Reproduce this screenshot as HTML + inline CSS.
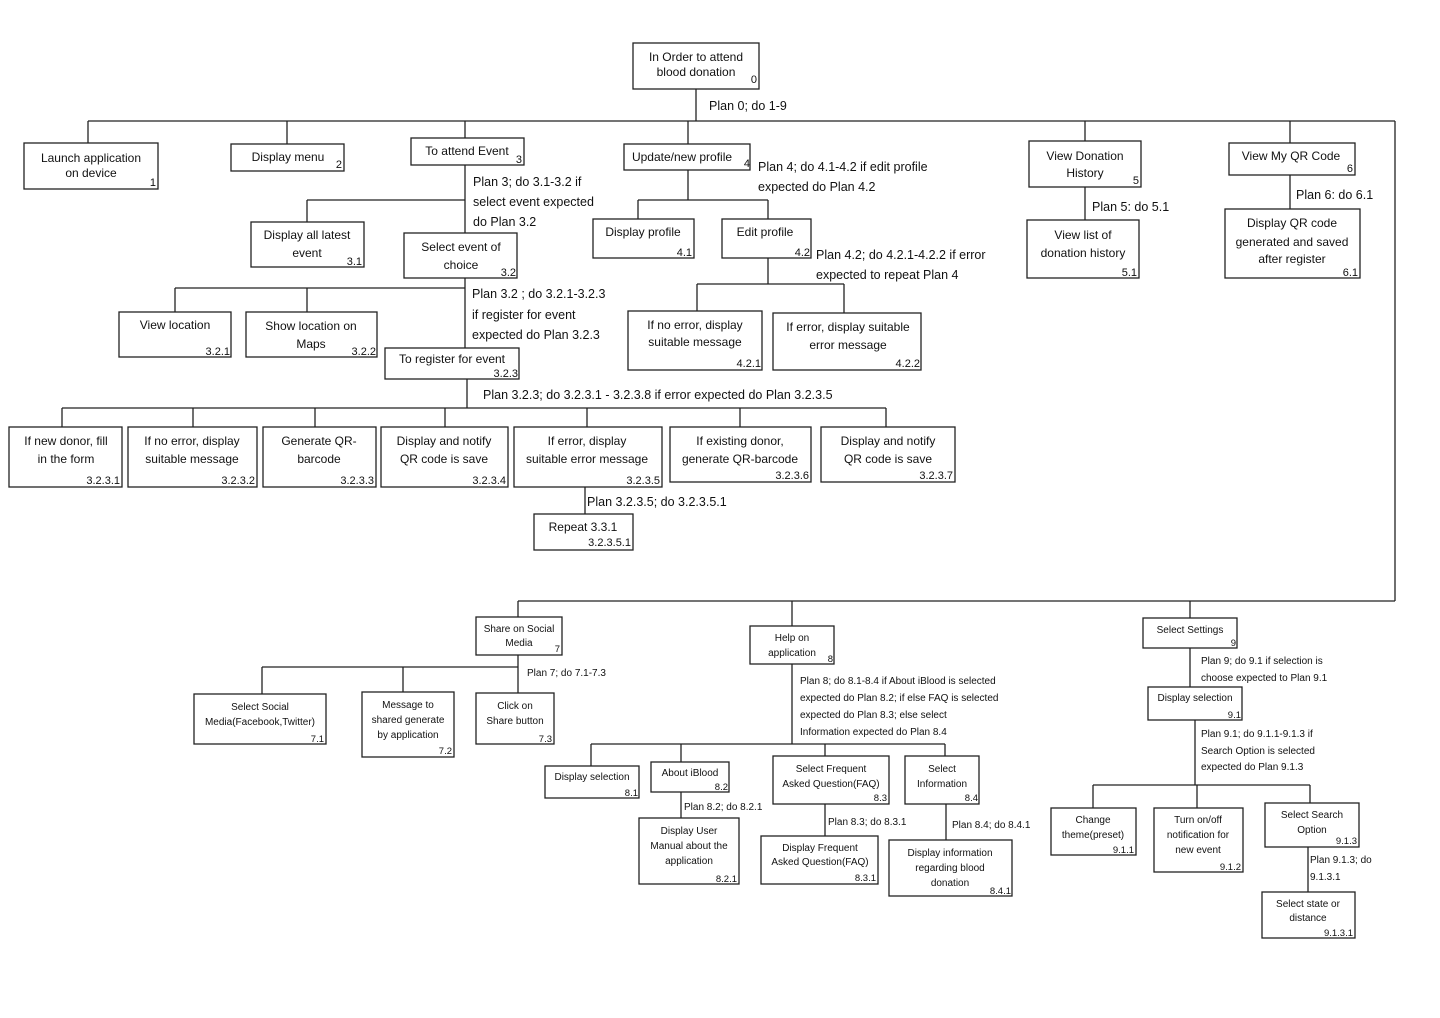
<!DOCTYPE html>
<html><head><meta charset="utf-8"><style>
html,body{margin:0;padding:0;background:#fff;}
svg{display:block;}
text{font-family:"Liberation Sans",sans-serif;fill:#111;}
.t{font-size:12px;text-anchor:middle;}
.s{font-size:10px;text-anchor:middle;}
.n{font-size:11px;text-anchor:end;}
.ns{font-size:9.5px;text-anchor:end;}
.p{font-size:12.5px;}
.ps{font-size:10px;}
rect{fill:#fff;stroke:#222;stroke-width:1.3;}
line{stroke:#222;stroke-width:1.3;}
</style></head><body>
<svg width="1440" height="1018" viewBox="0 0 1440 1018" xmlns="http://www.w3.org/2000/svg">
<!-- connectors -->
<line x1="696" y1="89" x2="696" y2="121"/>
<line x1="88" y1="121" x2="1395" y2="121"/>
<line x1="1395" y1="121" x2="1395" y2="601"/>
<line x1="518" y1="601" x2="1395" y2="601"/>
<line x1="88" y1="121" x2="88" y2="143"/>
<line x1="287" y1="121" x2="287" y2="144"/>
<line x1="465" y1="121" x2="465" y2="138"/>
<line x1="688" y1="121" x2="688" y2="144"/>
<line x1="1085" y1="121" x2="1085" y2="141"/>
<line x1="1290" y1="121" x2="1290" y2="143"/>
<line x1="1085" y1="187" x2="1085" y2="220"/>
<line x1="1290" y1="175" x2="1290" y2="209"/>
<line x1="465" y1="165" x2="465" y2="233"/>
<line x1="307" y1="200" x2="465" y2="200"/>
<line x1="307" y1="200" x2="307" y2="222"/>
<line x1="465" y1="278" x2="465" y2="348"/>
<line x1="175" y1="288" x2="465" y2="288"/>
<line x1="175" y1="288" x2="175" y2="312"/>
<line x1="307" y1="288" x2="307" y2="312"/>
<line x1="688" y1="170" x2="688" y2="200"/>
<line x1="638" y1="200" x2="768" y2="200"/>
<line x1="638" y1="200" x2="638" y2="219"/>
<line x1="768" y1="200" x2="768" y2="219"/>
<line x1="768" y1="258" x2="768" y2="284"/>
<line x1="697" y1="284" x2="844" y2="284"/>
<line x1="697" y1="284" x2="697" y2="311"/>
<line x1="844" y1="284" x2="844" y2="313"/>
<line x1="467" y1="379" x2="467" y2="408"/>
<line x1="62" y1="408" x2="886" y2="408"/>
<line x1="62" y1="408" x2="62" y2="427"/>
<line x1="193" y1="408" x2="193" y2="427"/>
<line x1="315" y1="408" x2="315" y2="427"/>
<line x1="445" y1="408" x2="445" y2="427"/>
<line x1="587" y1="408" x2="587" y2="427"/>
<line x1="740" y1="408" x2="740" y2="427"/>
<line x1="886" y1="408" x2="886" y2="427"/>
<line x1="585" y1="487" x2="585" y2="514"/>
<line x1="518" y1="601" x2="518" y2="617"/>
<line x1="792" y1="601" x2="792" y2="626"/>
<line x1="1190" y1="601" x2="1190" y2="618"/>
<line x1="518" y1="655" x2="518" y2="693"/>
<line x1="262" y1="667" x2="518" y2="667"/>
<line x1="262" y1="667" x2="262" y2="694"/>
<line x1="403" y1="667" x2="403" y2="692"/>
<line x1="792" y1="664" x2="792" y2="744"/>
<line x1="591" y1="744" x2="945" y2="744"/>
<line x1="591" y1="744" x2="591" y2="766"/>
<line x1="681" y1="744" x2="681" y2="762"/>
<line x1="825" y1="744" x2="825" y2="756"/>
<line x1="945" y1="744" x2="945" y2="756"/>
<line x1="681" y1="792" x2="681" y2="818"/>
<line x1="825" y1="803" x2="825" y2="836"/>
<line x1="946" y1="804" x2="946" y2="840"/>
<line x1="1190" y1="648" x2="1190" y2="687"/>
<line x1="1195" y1="720" x2="1195" y2="785"/>
<line x1="1093" y1="785" x2="1310" y2="785"/>
<line x1="1093" y1="785" x2="1093" y2="808"/>
<line x1="1197" y1="785" x2="1197" y2="808"/>
<line x1="1310" y1="785" x2="1310" y2="803"/>
<line x1="1308" y1="847" x2="1308" y2="892"/>

<!-- plan labels -->
<text class="p" x="709" y="110">Plan 0; do 1-9</text>
<text class="p" x="758" y="171">Plan 4; do 4.1-4.2 if edit profile</text>
<text class="p" x="758" y="191">expected do Plan 4.2</text>
<text class="p" x="1092" y="211">Plan 5: do 5.1</text>
<text class="p" x="1296" y="199">Plan 6: do 6.1</text>
<text class="p" x="473" y="186">Plan 3; do 3.1-3.2 if</text>
<text class="p" x="473" y="206">select event expected</text>
<text class="p" x="473" y="226">do Plan 3.2</text>
<text class="p" x="472" y="298">Plan 3.2 ; do 3.2.1-3.2.3</text>
<text class="p" x="472" y="319">if register for event</text>
<text class="p" x="472" y="339">expected do Plan 3.2.3</text>
<text class="p" x="816" y="259">Plan 4.2; do 4.2.1-4.2.2 if error</text>
<text class="p" x="816" y="279">expected to repeat Plan 4</text>
<text class="p" x="483" y="399">Plan 3.2.3; do 3.2.3.1 - 3.2.3.8 if error expected do Plan 3.2.3.5</text>
<text class="p" x="587" y="506">Plan 3.2.3.5; do 3.2.3.5.1</text>
<text class="ps" x="527" y="676">Plan 7; do 7.1-7.3</text>
<text class="ps" x="800" y="684">Plan 8; do 8.1-8.4 if About iBlood is selected</text>
<text class="ps" x="800" y="701">expected do Plan 8.2; if else FAQ is selected</text>
<text class="ps" x="800" y="718">expected do Plan 8.3;    else select</text>
<text class="ps" x="800" y="735">Information expected do Plan 8.4</text>
<text class="ps" x="684" y="810">Plan 8.2; do 8.2.1</text>
<text class="ps" x="828" y="825">Plan 8.3; do 8.3.1</text>
<text class="ps" x="952" y="828">Plan 8.4; do 8.4.1</text>
<text class="ps" x="1201" y="664">Plan 9; do 9.1 if selection is</text>
<text class="ps" x="1201" y="681">choose expected to Plan 9.1</text>
<text class="ps" x="1201" y="737">Plan 9.1; do 9.1.1-9.1.3 if</text>
<text class="ps" x="1201" y="754">Search Option is selected</text>
<text class="ps" x="1201" y="770">expected do Plan 9.1.3</text>
<text class="ps" x="1310" y="863">Plan 9.1.3; do</text>
<text class="ps" x="1310" y="880">9.1.3.1</text>

<!-- boxes top -->
<rect x="633" y="43" width="126" height="46"/>
<text class="t" x="696" y="61">In Order to attend</text><text class="t" x="696" y="76">blood donation</text><text class="n" x="757" y="83">0</text>
<rect x="24" y="143" width="134" height="46"/>
<text class="t" x="91" y="162">Launch application</text><text class="t" x="91" y="177">on device</text><text class="n" x="156" y="186">1</text>
<rect x="231" y="144" width="113" height="27"/>
<text class="t" x="288" y="161">Display menu</text><text class="n" x="342" y="168">2</text>
<rect x="411" y="138" width="113" height="27"/>
<text class="t" x="467" y="155">To attend Event</text><text class="n" x="522" y="163">3</text>
<rect x="624" y="144" width="126" height="26"/>
<text class="t" x="682" y="161">Update/new profile</text><text class="n" x="750" y="167">4</text>
<rect x="1029" y="141" width="112" height="46"/>
<text class="t" x="1085" y="160">View Donation</text><text class="t" x="1085" y="177">History</text><text class="n" x="1139" y="184">5</text>
<rect x="1229" y="143" width="126" height="32"/>
<text class="t" x="1291" y="160">View My QR Code</text><text class="n" x="1353" y="172">6</text>
<rect x="1027" y="220" width="112" height="58"/>
<text class="t" x="1083" y="239">View list of</text><text class="t" x="1083" y="257">donation history</text><text class="n" x="1137" y="276">5.1</text>
<rect x="1225" y="209" width="135" height="69"/>
<text class="t" x="1292" y="227">Display QR code</text><text class="t" x="1292" y="246">generated and saved</text><text class="t" x="1292" y="263">after register</text><text class="n" x="1358" y="276">6.1</text>
<rect x="251" y="222" width="113" height="45"/>
<text class="t" x="307" y="239">Display all latest</text><text class="t" x="307" y="257">event</text><text class="n" x="362" y="265">3.1</text>
<rect x="404" y="233" width="113" height="45"/>
<text class="t" x="461" y="251">Select event of</text><text class="t" x="461" y="269">choice</text><text class="n" x="516" y="276">3.2</text>
<rect x="593" y="219" width="101" height="39"/>
<text class="t" x="643" y="236">Display profile</text><text class="n" x="692" y="256">4.1</text>
<rect x="722" y="219" width="89" height="39"/>
<text class="t" x="765" y="236">Edit profile</text><text class="n" x="810" y="256">4.2</text>
<rect x="119" y="312" width="112" height="45"/>
<text class="t" x="175" y="329">View location</text><text class="n" x="230" y="355">3.2.1</text>
<rect x="246" y="312" width="131" height="45"/>
<text class="t" x="311" y="330">Show location on</text><text class="t" x="311" y="348">Maps</text><text class="n" x="376" y="355">3.2.2</text>
<rect x="385" y="348" width="134" height="31"/>
<text class="t" x="452" y="363">To register for event</text><text class="n" x="518" y="377">3.2.3</text>
<rect x="628" y="311" width="134" height="59"/>
<text class="t" x="695" y="329">If no error, display</text><text class="t" x="695" y="346">suitable message</text><text class="n" x="761" y="367">4.2.1</text>
<rect x="773" y="313" width="148" height="57"/>
<text class="t" x="848" y="331">If error, display suitable</text><text class="t" x="848" y="349">error message</text><text class="n" x="920" y="367">4.2.2</text>

<!-- level 3.2.3 -->
<rect x="9" y="427" width="113" height="60"/>
<text class="t" x="66" y="445">If new donor, fill</text><text class="t" x="66" y="463">in the form</text><text class="n" x="120" y="484">3.2.3.1</text>
<rect x="128" y="427" width="129" height="60"/>
<text class="t" x="192" y="445">If no error, display</text><text class="t" x="192" y="463">suitable message</text><text class="n" x="255" y="484">3.2.3.2</text>
<rect x="263" y="427" width="113" height="60"/>
<text class="t" x="319" y="445">Generate QR-</text><text class="t" x="319" y="463">barcode</text><text class="n" x="374" y="484">3.2.3.3</text>
<rect x="381" y="427" width="127" height="60"/>
<text class="t" x="444" y="445">Display and notify</text><text class="t" x="444" y="463">QR code is save</text><text class="n" x="506" y="484">3.2.3.4</text>
<rect x="514" y="427" width="148" height="60"/>
<text class="t" x="587" y="445">If error, display</text><text class="t" x="587" y="463">suitable error message</text><text class="n" x="660" y="484">3.2.3.5</text>
<rect x="670" y="427" width="141" height="55"/>
<text class="t" x="740" y="445">If existing donor,</text><text class="t" x="740" y="463">generate QR-barcode</text><text class="n" x="809" y="479">3.2.3.6</text>
<rect x="821" y="427" width="134" height="55"/>
<text class="t" x="888" y="445">Display and notify</text><text class="t" x="888" y="463">QR code is save</text><text class="n" x="953" y="479">3.2.3.7</text>
<rect x="534" y="514" width="99" height="36"/>
<text class="t" x="583" y="531">Repeat 3.3.1</text><text class="n" x="631" y="546">3.2.3.5.1</text>

<!-- bottom -->
<rect x="476" y="617" width="86" height="38"/>
<text class="s" x="519" y="632">Share on Social</text><text class="s" x="519" y="646">Media</text><text class="ns" x="560" y="652">7</text>
<rect x="750" y="626" width="84" height="38"/>
<text class="s" x="792" y="641">Help on</text><text class="s" x="792" y="656">application</text><text class="ns" x="833" y="662">8</text>
<rect x="1143" y="618" width="94" height="30"/>
<text class="s" x="1190" y="633">Select Settings</text><text class="ns" x="1236" y="646">9</text>
<rect x="194" y="694" width="132" height="50"/>
<text class="s" x="260" y="710">Select Social</text><text class="s" x="260" y="725">Media(Facebook,Twitter)</text><text class="ns" x="324" y="742">7.1</text>
<rect x="362" y="692" width="92" height="65"/>
<text class="s" x="408" y="708">Message to</text><text class="s" x="408" y="723">shared generate</text><text class="s" x="408" y="738">by application</text><text class="ns" x="452" y="754">7.2</text>
<rect x="476" y="693" width="78" height="51"/>
<text class="s" x="515" y="709">Click on</text><text class="s" x="515" y="724">Share button</text><text class="ns" x="552" y="742">7.3</text>
<rect x="545" y="766" width="94" height="32"/>
<text class="s" x="592" y="780">Display selection</text><text class="ns" x="638" y="796">8.1</text>
<rect x="651" y="762" width="78" height="30"/>
<text class="s" x="690" y="776">About iBlood</text><text class="ns" x="728" y="790">8.2</text>
<rect x="773" y="756" width="116" height="48"/>
<text class="s" x="831" y="772">Select Frequent</text><text class="s" x="831" y="787">Asked Question(FAQ)</text><text class="ns" x="887" y="801">8.3</text>
<rect x="905" y="756" width="74" height="48"/>
<text class="s" x="942" y="772">Select</text><text class="s" x="942" y="787">Information</text><text class="ns" x="978" y="801">8.4</text>
<rect x="639" y="818" width="100" height="66"/>
<text class="s" x="689" y="834">Display User</text><text class="s" x="689" y="849">Manual about the</text><text class="s" x="689" y="864">application</text><text class="ns" x="737" y="882">8.2.1</text>
<rect x="761" y="836" width="117" height="48"/>
<text class="s" x="820" y="851">Display Frequent</text><text class="s" x="820" y="865">Asked Question(FAQ)</text><text class="ns" x="876" y="881">8.3.1</text>
<rect x="889" y="840" width="123" height="56"/>
<text class="s" x="950" y="856">Display information</text><text class="s" x="950" y="871">regarding blood</text><text class="s" x="950" y="886">donation</text><text class="ns" x="1011" y="894">8.4.1</text>
<rect x="1148" y="687" width="94" height="33"/>
<text class="s" x="1195" y="701">Display selection</text><text class="ns" x="1241" y="718">9.1</text>
<rect x="1051" y="808" width="85" height="47"/>
<text class="s" x="1093" y="823">Change</text><text class="s" x="1093" y="838">theme(preset)</text><text class="ns" x="1134" y="853">9.1.1</text>
<rect x="1154" y="808" width="89" height="64"/>
<text class="s" x="1198" y="823">Turn on/off</text><text class="s" x="1198" y="838">notification for</text><text class="s" x="1198" y="853">new event</text><text class="ns" x="1241" y="870">9.1.2</text>
<rect x="1265" y="803" width="94" height="44"/>
<text class="s" x="1312" y="818">Select Search</text><text class="s" x="1312" y="833">Option</text><text class="ns" x="1357" y="844">9.1.3</text>
<rect x="1262" y="892" width="93" height="46"/>
<text class="s" x="1308" y="907">Select state or</text><text class="s" x="1308" y="921">distance</text><text class="ns" x="1353" y="936">9.1.3.1</text>
</svg>
</body></html>
